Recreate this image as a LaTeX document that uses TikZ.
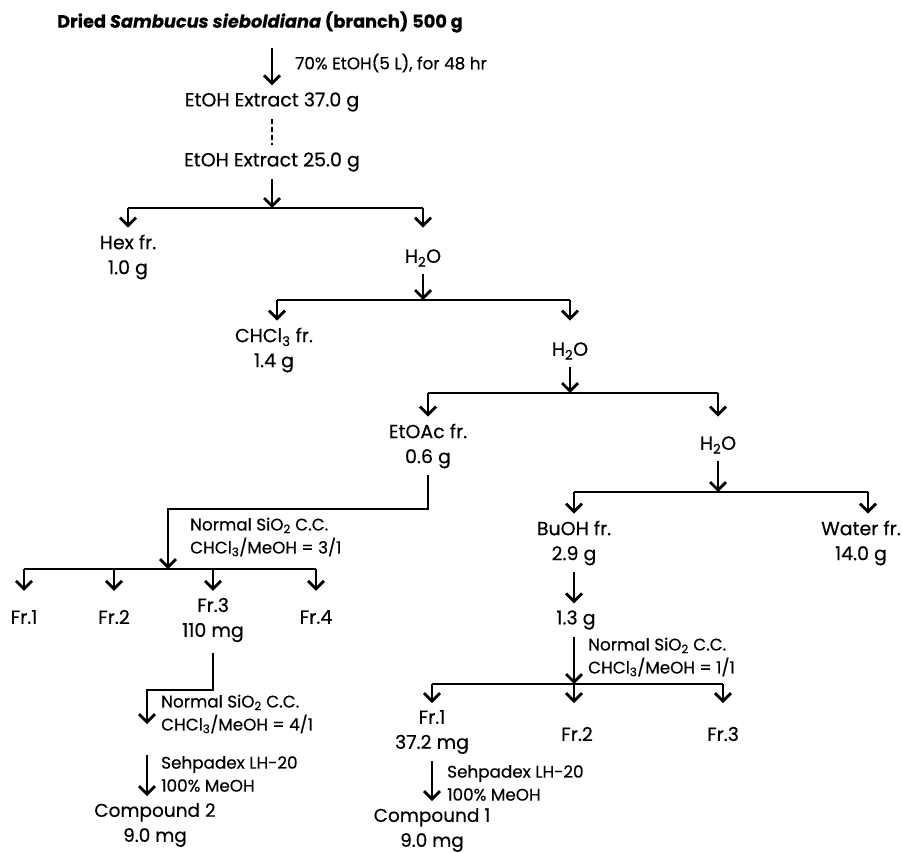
\documentclass[tikz,border=0pt]{standalone}
\usepackage{fontspec}
\setmainfont{Poppins}[FakeBold=0.4]
\usetikzlibrary{arrows.meta}

\tikzset{
  txt/.style={inner sep=7pt, outer sep=0pt, align=center, font=\fontsize{19}{25}\selectfont},
  side/.style={inner sep=0pt, anchor=west, align=left, font=\fontsize{16.8}{23}\selectfont},
  arr/.style={line width=2.8pt, -{Straight Barb[length=8pt,width=16pt,line width=2.8pt]}},
  bar/.style={line width=2.8pt}
}

\begin{document}
\begin{tikzpicture}[x=1pt,y=-1pt]
    \useasboundingbox (0,0) rectangle (902,853);

    % Draw extraction
    \node[txt, font=\fontsize{17.8}{25}\selectfont\bfseries] (title) at (260,22) {Dried \textit{Sambucus sieboldiana} (branch) 500 g};
    \node[txt] (ext1) at (272,102) {EtOH Extract 37.0 g};
    \node[txt] (ext2) at (272,162) {EtOH Extract 25.0 g};
    \node[side] (cond) at (295,63) {70\% EtOH(5 L), for 48 hr};
    \draw[arr, shorten <=8pt] (title.south -| ext1) -- (ext1);
    \draw[bar, line width=2.4pt, dash pattern=on 5pt off 3pt] (ext1) -- (ext2);

    % Draw partition with Hex
    \coordinate (b1) at (272,208);
    \coordinate (b1l) at (128,208);
    \coordinate (b1r) at (423,208);
    \node[txt] (hex) at (128,257) {Hex fr.\\1.0 g};
    \node[txt] (w1) at (423,258) {H\textsubscript{2}O};
    \draw[arr] (ext2) -- (b1);
    \draw[bar] (b1l) -- (b1r);
    \draw[arr] (b1l) -- (hex);
    \draw[arr] (b1r) -- (b1r |- hex.north);

    % Draw partition with CHCl3
    \coordinate (b2) at (423,300);
    \coordinate (b2l) at (277,300);
    \coordinate (b2r) at (570,300);
    \node[txt] (chcl) at (274,350) {CHCl\textsubscript{3} fr.\\1.4 g};
    \node[txt] (w2) at (570,351) {H\textsubscript{2}O};
    \draw[arr] (w1) -- (b2);
    \draw[bar] (b2l) -- (b2r);
    \draw[arr] (b2l) -- (b2l |- chcl.north);
    \draw[arr] (b2r) -- (b2r |- chcl.north);

    % Draw partition with EtOAc
    \coordinate (b3) at (570,393);
    \coordinate (b3l) at (428,393);
    \coordinate (b3r) at (718,393);
    \node[txt] (etoac) at (428,446) {EtOAc fr.\\0.6 g};
    \node[txt] (w3) at (718,445) {H\textsubscript{2}O};
    \draw[arr] (w2) -- (b3);
    \draw[bar] (b3l) -- (b3r);
    \draw[arr] (b3l) -- (etoac);
    \draw[arr] (b3r) -- (b3r |- etoac.north);

    % Draw partition with BuOH
    \coordinate (b4) at (718,492);
    \coordinate (b4l) at (574,492);
    \coordinate (b4r) at (868,492);
    \node[txt] (buoh) at (574,543) {BuOH fr.\\2.9 g};
    \node[txt, inner xsep=0pt] (water) at (861,543) {Water fr.\\14.0 g};
    \draw[arr] (w3) -- (b4);
    \draw[bar] (b4l) -- (b4r);
    \draw[arr] (b4l) -- (buoh);
    \draw[arr] (b4r) -- (b4r |- water.north);

    % Draw EtOAc column
    \coordinate (k1) at (168,509);
    \coordinate (b5) at (168,569);
    \coordinate (b5l) at (24,569);
    \coordinate (b5r) at (316,569);
    \node[side] (cc1) at (190,537) {Normal SiO\textsubscript{2} C.C.\\CHCl\textsubscript{3}/MeOH = 3/1};
    \node[txt] (fr1) at (24,617) {Fr.1};
    \node[txt] (fr2) at (114,617) {Fr.2};
    \node[txt] (fr3) at (213,620) {Fr.3\\110 mg};
    \node[txt] (fr4) at (316,617) {Fr.4};
    \draw[arr] (etoac.south) |- (k1) -- (b5);
    \draw[bar] (b5l) -- (b5r);
    \foreach \f in {fr1,fr2,fr3,fr4}
        \draw[arr] (\f |- b5) -- (\f |- fr3.north);

    % Draw Fr.3 purification
    \coordinate (k2) at (147,690);
    \coordinate (t2) at (147,724);
    \coordinate (s2) at (147,755);
    \node[side] (cc2) at (161,714) {Normal SiO\textsubscript{2} C.C.\\CHCl\textsubscript{3}/MeOH = 4/1};
    \node[side] (lh2) at (161,774) {Sehpadex LH-20\\100\% MeOH};
    \node[txt, font=\fontsize{18.5}{25}\selectfont] (comp2) at (155,825) {Compound 2\\9.0 mg};
    \draw[arr, shorten <=4pt] (fr3.south) |- (k2) -- (t2);
    \draw[arr] (s2) -- (s2 |- comp2.north);

    % Draw BuOH column
    \node[txt] (g13) at (576,620) {1.3 g};
    \coordinate (b6) at (574,684);
    \coordinate (b6l) at (432,684);
    \coordinate (b6r) at (723,684);
    \node[side] (cc3) at (588,657) {Normal SiO\textsubscript{2} C.C.\\CHCl\textsubscript{3}/MeOH = 1/1};
    \node[txt] (rfr1) at (432,732) {Fr.1\\37.2 mg};
    \node[txt] (rfr2) at (577,734) {Fr.2};
    \node[txt] (rfr3) at (723,734) {Fr.3};
    \draw[arr] (buoh) -- (buoh |- g13.north);
    \draw[arr] (g13.south -| b6) -- (b6);
    \draw[bar] (b6l) -- (b6r);
    \draw[arr] (b6l) -- (rfr1);
    \draw[arr] (b6) -- (b6 |- rfr1.north);
    \draw[arr] (b6r) -- (b6r |- rfr1.north);

    % Draw Fr.1 purification
    \node[side] (lh1) at (447,783) {Sehpadex LH-20\\100\% MeOH};
    \node[txt, font=\fontsize{18.5}{25}\selectfont] (comp1) at (432,830) {Compound 1\\9.0 mg};
    \draw[arr] (rfr1) -- (comp1);
\end{tikzpicture}
\end{document}
